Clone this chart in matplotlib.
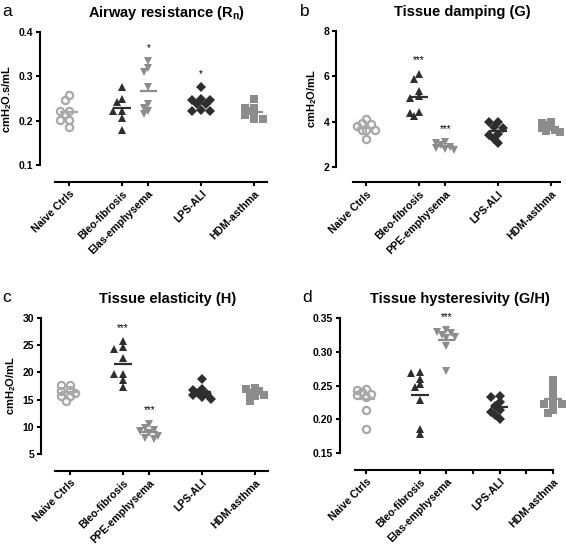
import numpy as np
import matplotlib
matplotlib.use("Agg")
import matplotlib.pyplot as plt

plt.rcParams['font.family'] = ['Liberation Sans', 'DejaVu Sans']
plt.rcParams['mathtext.default'] = 'regular'

# ---------------- data ----------------
positions = [0, 2, 3, 5, 7]

labels_a = ["Naive Ctrls", "Bleo-fibrosis", "Elas-emphysema", "LPS-ALI", "HDM-asthma"]
labels_b = ["Naive Ctrls", "Bleo-fibrosis", "PPE-emphysema", "LPS-ALI", "HDM-asthma"]

naive_a = [0.258, 0.247, 0.222, 0.221, 0.216, 0.202, 0.202, 0.186]
bleo_a = [0.277, 0.249, 0.243, 0.221, 0.221, 0.206, 0.179]
elas_a = [0.334, 0.319, 0.309, 0.277, 0.238, 0.228, 0.222, 0.216]
lps_a = [0.276, 0.249, 0.247, 0.246, 0.238, 0.238, 0.223, 0.221, 0.221]
hdm_a = [0.249, 0.228, 0.228, 0.221, 0.216, 0.213, 0.204, 0.204]

naive_b = [4.13, 3.92, 3.88, 3.80, 3.65, 3.62, 3.62, 3.25]
bleo_b = [6.12, 5.90, 5.35, 5.12, 5.06, 4.43, 4.38, 4.24]
ppe_b = [3.10, 3.06, 2.95, 2.90, 2.85, 2.80, 2.75]
lps_b = [3.99, 3.99, 3.77, 3.74, 3.47, 3.40, 3.25, 3.06]
hdm_b = [4.00, 3.95, 3.85, 3.75, 3.70, 3.65, 3.60, 3.55]

naive_c = [17.7, 17.6, 16.7, 16.6, 16.2, 15.7, 15.6, 14.8]
bleo_c = [25.7, 24.6, 24.3, 22.6, 19.7, 19.7, 18.6, 17.4]
ppe_c = [10.6, 9.8, 9.5, 9.2, 8.8, 8.4, 8.0, 7.8]
lps_c = [18.8, 17.0, 16.8, 16.3, 16.0, 15.8, 15.5, 15.1]
hdm_c = [17.2, 16.9, 16.6, 16.2, 15.9, 15.6, 14.7]

naive_d = [0.245, 0.244, 0.240, 0.237, 0.236, 0.233, 0.214, 0.186]
bleo_d = [0.270, 0.269, 0.260, 0.252, 0.248, 0.228, 0.186, 0.178]
elas_d = [0.332, 0.330, 0.328, 0.325, 0.322, 0.320, 0.308, 0.272]
lps_d = [0.234, 0.233, 0.226, 0.219, 0.214, 0.211, 0.207, 0.200]
hdm_d = [0.258, 0.248, 0.236, 0.225, 0.222, 0.222, 0.214, 0.210]

stars_a = ["", "", "*", "*", ""]
stars_b = ["", "***", "***", "", ""]
stars_c = ["", "***", "***", "", ""]
stars_d = ["", "", "***", "", ""]

# ---------------- styles ----------------
LG = '#a8a8a8'
MG = '#8c8c8c'
DK = '#2e2e2e'
styles = [
    dict(marker='o', mfc='none', mec=LG, mew=1.6, ms=5.2, color=LG),
    dict(marker='^', mfc=DK, mec=DK, mew=0, ms=6.2, color=DK),
    dict(marker='v', mfc=MG, mec=MG, mew=0, ms=6.2, color=MG),
    dict(marker='D', mfc=DK, mec=DK, mew=0, ms=5.2, color=DK),
    dict(marker='s', mfc=MG, mec=MG, mew=0, ms=5.6, color=MG),
]

W, H = 566, 551
fig = plt.figure(figsize=(W / 100, H / 100), dpi=100)


def px_axes(left, top, right, bottom):
    return fig.add_axes([left / W, 1 - bottom / H, (right - left) / W, (bottom - top) / H])


def swarm(vals, ypx_per_unit, xpx_per_unit, min_d=5.0):
    order = np.argsort(vals)[::-1]
    placed = []
    offs = np.zeros(len(vals))
    cands = [0, -1, 1, -2, 2]
    step = 0.17
    for i in order:
        y = vals[i] * ypx_per_unit
        best, bestd = 0, -1
        for c in cands:
            x = c * step * xpx_per_unit
            d = min([np.hypot(x - px, y - py) for px, py in placed] + [1e9])
            if d >= min_d:
                best = c
                break
            if d > bestd:
                best, bestd = c, d
        placed.append((best * step * xpx_per_unit, y))
        offs[i] = best * step
    return offs


def panel(box, groups, xlabels, stars, ylim, yticks, yfmt, ylabel, title, letter,
          xlim, left_off, bottom_off, extra_ticks=None):
    ax = px_axes(*box)
    ax.set_xlim(*xlim)
    ax.set_ylim(*ylim)
    ypx = (box[3] - box[1]) / (ylim[1] - ylim[0])
    xpx = (box[2] - box[0]) / (xlim[1] - xlim[0])
    for pos, vals, st, sty in zip(positions, groups, stars, styles):
        vals = np.asarray(vals, float)
        offs = swarm(vals, ypx, xpx)
        ax.plot(pos + offs, vals, ls='none', marker=sty['marker'], mfc=sty['mfc'],
                mec=sty['mec'], mew=sty['mew'], ms=sty['ms'], clip_on=False, zorder=3)
        m = vals.mean()
        ax.plot([pos - 0.33, pos + 0.33], [m, m], color=sty['color'], lw=1.6,
                solid_capstyle='butt', zorder=4, clip_on=False)
        if st:
            ax.annotate(st, (pos, vals.max()), xytext=(0, 6), textcoords='offset points',
                        ha='center', va='bottom', fontsize=7, color='black')
    for s in ['top', 'right']:
        ax.spines[s].set_visible(False)
    ax.spines['left'].set_position(('outward', left_off))
    ax.spines['bottom'].set_position(('outward', bottom_off))
    for s in ['left', 'bottom']:
        ax.spines[s].set_linewidth(1.5)
    ax.set_yticks(yticks)
    ax.set_yticklabels([yfmt.format(v) for v in yticks], fontsize=7.5, fontweight='bold')
    if extra_ticks is None:
        ax.set_xticks(positions)
        ax.set_xticklabels(xlabels)
    else:
        tk = sorted(positions + extra_ticks)
        lab = [xlabels[positions.index(t)] if t in positions else '' for t in tk]
        ax.set_xticks(tk)
        ax.set_xticklabels(lab)
    for t in ax.get_xticklabels():
        t.set_rotation(45)
        t.set_ha('right')
        t.set_va('top')
        t.set_rotation_mode('anchor')
        t.set_fontsize(7.6)
        t.set_fontweight('bold')
    ax.tick_params(axis='both', length=3, width=1.5, pad=2, direction='out')
    ax.set_ylabel(ylabel, fontsize=8, fontweight='bold', labelpad=3)
    cx = (box[0] + box[2]) / 2
    fig.text(cx / W + 0.01, 1 - (box[1] - 19) / H, title, ha='center', va='center',
             fontsize=10.5, fontweight='bold')
    fig.text((box[0] - 53) / W, 1 - (box[1] - 20) / H, letter, ha='left', va='center',
             fontsize=12.5)
    return ax


panel((55, 32, 267, 165), [naive_a, bleo_a, elas_a, lps_a, hdm_a], labels_a, stars_a,
      (0.1, 0.4), [0.1, 0.2, 0.3, 0.4], '{:.1f}', 'cmH$_2$O.s/mL',
      'Airway resistance (R$_n$)', 'a', (-0.53, 7.49), 11, 12)

panel((353, 31, 560, 167), [naive_b, bleo_b, ppe_b, lps_b, hdm_b], labels_b, stars_b,
      (2, 8), [2, 4, 6, 8], '{:g}', 'cmH$_2$O/mL',
      'Tissue damping (G)', 'b', (-0.5, 7.35), 12, 11)

panel((55, 318, 268, 454), [naive_c, bleo_c, ppe_c, lps_c, hdm_c], labels_b, stars_c,
      (5, 30), [5, 10, 15, 20, 25, 30], '{:g}', 'cmH$_2$O/mL',
      'Tissue elasticity (H)', 'c', (-0.57, 7.5), 10, 12)

panel((355, 318, 553, 453), [naive_d, bleo_d, elas_d, lps_d, hdm_d], labels_a, stars_d,
      (0.15, 0.35), [0.15, 0.20, 0.25, 0.30, 0.35], '{:.2f}', '',
      'Tissue hysteresivity (G/H)', 'd', (-0.43, 7.0), 11, 12, extra_ticks=[4, 6])

fig.savefig('out.png', dpi=100)
